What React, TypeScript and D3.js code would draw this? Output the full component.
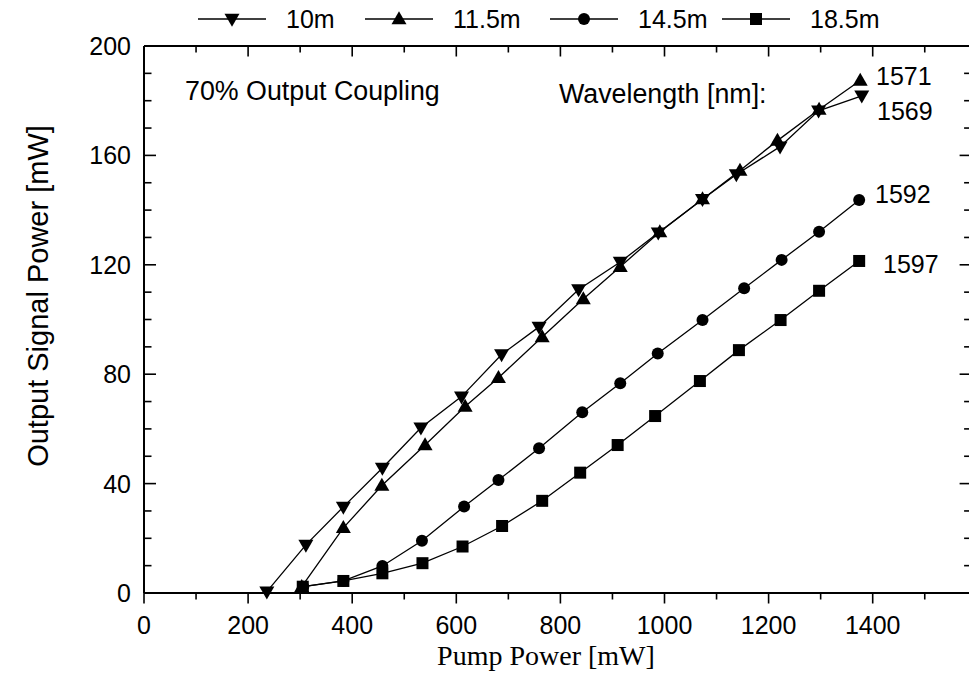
import React from "react";
import * as d3 from "d3";

const pump10 = [236, 311, 383, 458, 532, 610, 687, 759, 835, 915, 988, 1073, 1138, 1222, 1296, 1379];
const out10 = [0.5, 17.6, 31.5, 45.7, 60.4, 71.8, 87.2, 97.3, 111, 121, 131.7, 144, 153, 163.2, 176.3, 181.8];

const pump115 = [303, 383, 457, 540, 617, 681, 765, 844, 915, 991, 1073, 1145, 1217, 1297, 1376];
const out115 = [2.3, 23.8, 39.3, 54.1, 68.2, 78.7, 93.6, 107.5, 119.3, 132, 144, 154.5, 165.4, 176.8, 187.4];

const pump145 = [306, 383, 458, 534, 615, 681, 759, 842, 915, 987, 1073, 1153, 1225, 1297, 1374];
const out145 = [2.3, 4.4, 9.9, 19.1, 31.6, 41.3, 52.9, 66.1, 76.7, 87.6, 99.8, 111.4, 121.8, 132.1, 143.7];

const pump185 = [305, 383, 458, 535, 612, 688, 765, 838, 910, 982, 1068, 1143, 1223, 1297, 1374];
const out185 = [2.3, 4.4, 7.2, 10.9, 17, 24.5, 33.7, 44, 54.1, 64.7, 77.5, 88.8, 99.8, 110.5, 121.4];

const seriesNames = ["10m", "11.5m", "14.5m", "18.5m"];
const seriesShapes = ["down", "up", "circle", "square"];
const wavelengths = ["1569", "1571", "1592", "1597"];

const xTicksMajor = [0, 200, 400, 600, 800, 1000, 1200, 1400];
const yTicksMajor = [0, 40, 80, 120, 160, 200];
const X_MAX = 1590;

const SANS = "'Liberation Sans', Arial, Helvetica, sans-serif";
const SERIF = "'Liberation Serif', 'Times New Roman', serif";

function Marker({ shape, x, y }: { shape: string; x: number; y: number }) {
  if (shape === "circle") return <circle cx={x} cy={y} r={6} fill="#000" />;
  if (shape === "square") return <rect x={x - 6} y={y - 6} width={12} height={12} fill="#000" />;
  const s = 7.5;
  const h = 13;
  const p = d3.path();
  if (shape === "up") {
    p.moveTo(x, y - h * 0.6);
    p.lineTo(x + s, y + h * 0.4);
    p.lineTo(x - s, y + h * 0.4);
  } else {
    p.moveTo(x, y + h * 0.6);
    p.lineTo(x + s, y - h * 0.4);
    p.lineTo(x - s, y - h * 0.4);
  }
  p.closePath();
  return <path d={p.toString()} fill="#000" />;
}

export default function App() {
  const W = 969;
  const H = 696;
  const x = d3.scaleLinear().domain([0, 1400]).range([144, 872.7]);
  const y = d3.scaleLinear().domain([0, 200]).range([593, 46]);
  const x0 = x(0);
  const x1 = x(X_MAX);
  const y0 = y(0);
  const y1 = y(200);

  const series = [
    { px: pump10, py: out10 },
    { px: pump115, py: out115 },
    { px: pump145, py: out145 },
    { px: pump185, py: out185 },
  ];

  const line = d3
    .line<[number, number]>()
    .x((d) => x(d[0]))
    .y((d) => y(d[1]));

  const xMinor = d3.range(0, X_MAX, 100);
  const yMinor = d3.range(0, 201, 10);

  const legendX = [198, 365, 550, 722];
  const legendY = 19;

  return (
    <svg
      width={W}
      height={H}
      style={{ position: "absolute", left: 0, top: 0, background: "#fff" }}
    >
      <rect x={0} y={0} width={W} height={H} fill="#fff" />
      <g stroke="#000" strokeWidth={2} fill="none">
        <line x1={x0} x2={x1} y1={y0} y2={y0} />
        <line x1={x0} x2={x1} y1={y1} y2={y1} />
        <line x1={x0} x2={x0} y1={y0} y2={y1} />
        <line x1={x1} x2={x1} y1={y0} y2={y1} />
      </g>
      <g stroke="#000" strokeWidth={1.6}>
        {xMinor.map((v) => {
          const major = v % 200 === 0;
          const len = major ? 10.5 : 6.5;
          return (
            <g key={"xt" + v}>
              <line x1={x(v)} x2={x(v)} y1={y0} y2={y0 + len} />
              <line x1={x(v)} x2={x(v)} y1={y1} y2={y1 + len} />
            </g>
          );
        })}
        {yMinor.map((v) => {
          const major = v % 40 === 0;
          const len = major ? 12 : 7.5;
          return (
            <g key={"yt" + v}>
              <line x1={x0} x2={x0 + len} y1={y(v)} y2={y(v)} />
              <line x1={x1} x2={x1 - len} y1={y(v)} y2={y(v)} />
            </g>
          );
        })}
      </g>
      <g fontFamily={SANS} fontSize={25} fill="#000">
        {xTicksMajor.map((v) => (
          <text key={"xl" + v} x={x(v)} y={634} textAnchor="middle">
            {v}
          </text>
        ))}
        {yTicksMajor.map((v) => (
          <text key={"yl" + v} x={131} y={y(v) + 9} textAnchor="end">
            {v}
          </text>
        ))}
      </g>
      <text
        x={546}
        y={665}
        textAnchor="middle"
        fontFamily={SERIF}
        fontSize={28}
        fill="#000"
      >
        Pump Power [mW]
      </text>
      <text
        transform={`translate(48, 296) rotate(-90)`}
        textAnchor="middle"
        fontFamily={SANS}
        fontSize={29}
        fill="#000"
      >
        Output Signal Power [mW]
      </text>
      {series.map((s, i) => {
        const pts: [number, number][] = s.px.map((v, j) => [v, s.py[j]]);
        return (
          <g key={"s" + i}>
            <path d={line(pts) || ""} fill="none" stroke="#000" strokeWidth={1.3} />
            {pts.map((p, j) => (
              <Marker key={j} shape={seriesShapes[i]} x={x(p[0])} y={y(p[1])} />
            ))}
          </g>
        );
      })}
      <g fontFamily={SANS} fill="#000">
        <text x={185} y={100} fontSize={26.8}>
          70% Output Coupling
        </text>
        <text x={559} y={103} fontSize={26.8}>
          Wavelength [nm]:
        </text>
        <text x={876} y={85} fontSize={25}>
          {wavelengths[1]}
        </text>
        <text x={877} y={120} fontSize={25}>
          {wavelengths[0]}
        </text>
        <text x={875} y={203} fontSize={25}>
          {wavelengths[2]}
        </text>
        <text x={883} y={273} fontSize={25}>
          {wavelengths[3]}
        </text>
      </g>
      <g fontFamily={SANS} fontSize={25} fill="#000">
        {seriesNames.map((n, i) => {
          const lx = legendX[i];
          return (
            <g key={"lg" + i}>
              <line x1={lx} x2={lx + 68} y1={legendY} y2={legendY} stroke="#000" strokeWidth={1.3} />
              <Marker shape={seriesShapes[i]} x={lx + 34} y={legendY} />
              <text x={lx + 88} y={legendY + 9}>
                {n}
              </text>
            </g>
          );
        })}
      </g>
    </svg>
  );
}
